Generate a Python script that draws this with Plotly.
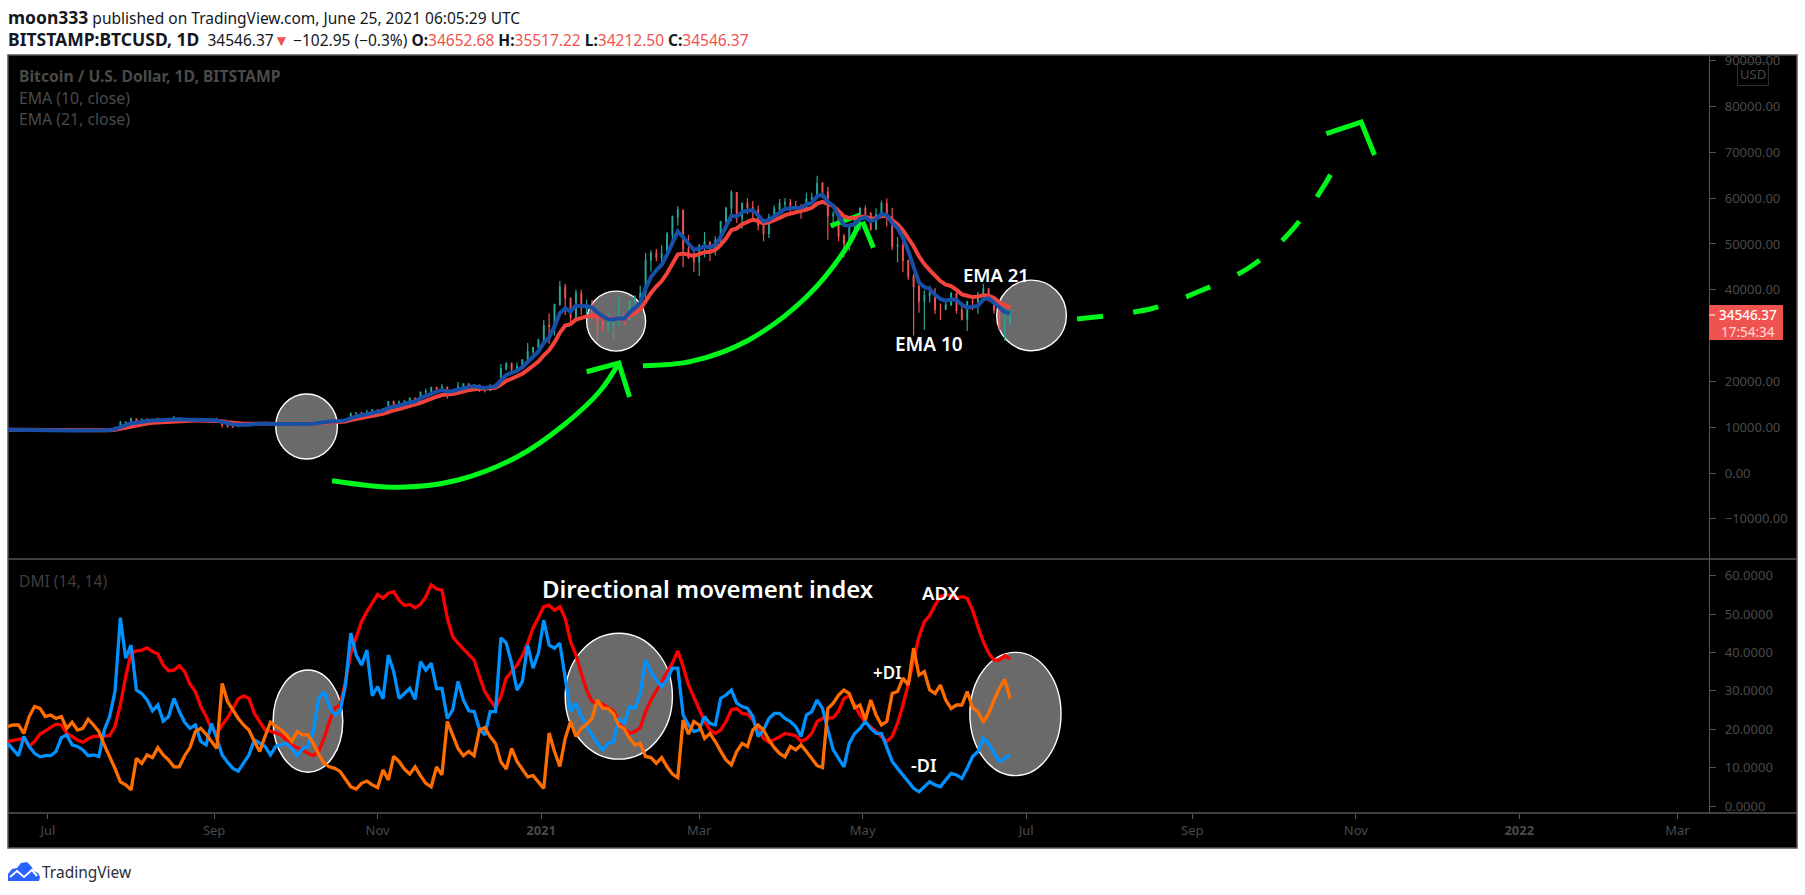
import datetime as dt
import plotly.graph_objects as go

W, H = 1805, 895
L, R, T, B, MID = 8, 1709, 55, 813, 559

dates = [(dt.date(2020, 6, 16) + dt.timedelta(days=2 * i)).isoformat() for i in range(188)]

close_k = [9.45,9.38,9.36,9.69,9.31,9.17,9.12,9.14,
 9.23,9.13,9.34,9.44,9.24,9.30,9.25,9.13,9.17,9.16,9.53,9.55,9.93,10.92,11.10,
 11.80,11.22,11.75,11.60,11.68,11.38,11.77,11.85,11.99,11.75,11.52,11.65,11.35,11.33,11.54,11.65,
 11.40,10.45,10.28,10.12,10.37,10.44,10.67,10.95,10.93,10.92,10.45,10.75,10.70,10.69,10.78,
 10.57,10.67,10.60,10.92,11.30,11.55,11.43,11.32,11.50,11.75,12.98,13.11,13.07,13.27,13.80,
 13.76,14.03,15.59,14.84,15.33,15.70,16.33,15.99,17.65,17.82,18.68,18.41,18.74,17.15,18.19,
 18.80,19.45,19.17,19.19,18.55,18.05,19.16,19.27,22.8,23.85,22.73,23.24,24.7,26.5,27.36,29.0,
 32.2,31.98,36.8,40.6,38.2,33.9,39.15,36.0,36.6,35.5,32.95,32.3,32.5,33.4,34.3,
 33.5,37.6,38.3,39.2,46.5,47.9,47.1,47.9,52.1,55.9,57.4,48.9,47.0,46.2,
 49.6,50.4,48.8,50.9,54.9,57.8,61.2,55.7,58.9,58.0,57.4,54.1,52.3,55.8,57.6,58.8,
 59.0,58.2,58.1,58.1,59.8,60.0,63.2,61.3,56.2,56.5,51.7,50.1,53.9,54.9,57.7,
 56.6,53.2,56.4,58.8,55.9,49.5,49.7,46.4,42.9,40.7,37.5,38.7,39.3,35.7,35.7,
 36.7,39.2,35.5,33.6,37.4,37.3,39.0,40.2,38.1,35.6,31.7,32.5,34.5]
high_k = [9.55,9.48,9.40,9.75,9.7,9.35,9.2,9.2,
 9.3,9.2,9.38,9.48,9.48,9.35,9.3,9.25,9.2,9.2,9.55,9.65,10.1,11.4,11.2,
 12.1,11.9,11.8,11.9,11.85,12.1,11.8,12.0,12.45,12.0,11.85,11.7,11.75,11.6,11.55,11.8,
 12.05,11.1,10.4,10.4,10.5,10.45,10.75,11.1,11.05,11.0,10.9,10.8,10.8,10.95,10.8,
 10.9,10.7,10.8,10.95,11.45,11.7,11.55,11.45,11.5,11.9,13.2,13.2,13.3,13.8,13.7,
 13.9,14.05,15.7,15.8,15.8,15.9,16.4,16.15,17.75,18.4,18.7,18.75,19.4,18.9,18.3,
 19.85,19.6,19.55,19.4,19.3,18.6,19.4,19.55,23.8,24.2,24.1,24.1,24.8,28.4,27.5,29.3,
 33.4,34.8,36.9,41.9,41.3,38.1,40.0,40.0,37.9,37.8,35.5,33.5,34.9,33.8,38.5,
 34.7,37.7,38.8,40.9,48.0,48.6,48.9,49.7,52.6,56.2,58.3,54.2,52.0,48.4,
 50.0,52.6,49.4,51.7,55.0,58.1,61.7,61.1,59.0,60.0,59.4,58.4,54.0,56.6,58.4,59.8,
 60.0,59.8,59.4,58.7,61.2,61.2,64.9,63.5,62.5,57.1,55.5,52.2,54.2,55.9,58.0,
 58.4,57.0,57.8,59.5,59.9,57.9,51.5,50.5,46.5,43.5,42.3,39.9,40.9,40.4,37.0,
 37.5,39.5,39.2,36.8,37.5,38.4,39.5,41.3,39.5,36.5,36.0,34.8,35.5]
low_k = [9.25,9.28,9.2,9.3,9.25,9.05,9.0,9.05,
 9.05,9.05,9.1,9.3,9.15,9.15,9.2,9.1,9.1,9.12,9.2,9.45,9.5,9.9,10.85,
 10.95,11.0,11.1,11.35,11.5,11.2,11.15,11.6,11.7,11.6,11.5,11.5,11.15,11.1,11.3,11.6,
 11.15,9.9,9.9,9.85,10.1,10.2,10.25,10.65,10.8,10.75,10.35,10.15,10.6,10.6,10.6,
 10.4,10.5,10.55,10.5,10.9,11.2,11.3,11.25,11.25,11.4,11.9,12.7,12.8,12.95,13.1,
 13.6,13.2,14.0,14.3,14.9,15.0,15.4,15.8,16.0,17.3,17.6,18.0,18.5,16.2,17.1,
 18.1,18.4,18.6,18.9,17.7,17.6,18.5,19.1,19.3,22.4,21.9,22.6,22.7,24.5,25.9,27.8,
 28.7,28.2,30.0,36.5,34.5,32.5,33.4,34.5,33.8,33.4,28.8,30.9,30.9,29.2,32.0,
 32.3,33.4,36.2,37.3,38.0,44.0,46.2,45.6,47.0,50.7,54.0,44.9,46.7,43.9,
 43.0,47.1,46.3,47.5,50.3,53.0,55.0,54.6,53.3,56.5,55.5,53.0,50.6,51.3,54.8,57.0,
 57.9,56.6,57.3,55.5,57.6,59.4,61.3,60.0,50.9,53.4,50.6,47.0,48.5,52.5,53.0,
 55.9,52.9,55.3,56.0,53.8,48.6,46.0,43.8,42.2,30.0,35.0,31.2,37.2,34.7,33.4,
 35.7,36.5,34.8,33.3,31.0,35.6,34.7,38.7,37.4,34.8,31.2,28.8,34.2]
ema10_k = [9.45,9.42,9.40,9.50,9.44,9.35,9.27,9.23,9.23,9.20,9.25,9.31,9.29,9.29,9.28,9.23,9.21,9.19,9.31,9.39,
 9.57,10.02,10.38,10.85,10.97,11.23,11.36,11.46,11.43,11.55,11.65,11.76,11.76,11.68,11.67,11.56,11.48,11.50,11.55,11.50,
 11.15,10.86,10.61,10.53,10.50,10.56,10.69,10.77,10.82,10.70,10.72,10.71,10.70,10.73,10.68,10.68,10.65,10.74,10.93,11.14,
 11.24,11.27,11.35,11.48,11.98,12.36,12.60,12.82,13.15,13.35,13.58,14.25,14.45,14.74,15.06,15.48,15.65,16.32,16.82,17.44,
 17.76,18.09,17.78,17.92,18.21,18.62,18.80,18.93,18.80,18.55,18.75,18.92,20.21,21.42,21.86,22.32,23.11,24.24,25.28,26.52,
 28.41,29.60,32.0,34.87,35.98,35.29,36.57,36.38,36.45,36.13,35.07,34.15,33.6,33.53,33.79,33.7,35.0,36.1,37.13,40.25,
 42.8,44.24,45.46,47.67,50.41,52.74,51.46,49.97,48.72,49.01,49.47,49.25,49.8,51.5,53.6,56.13,55.99,56.96,57.31,57.34,
 56.26,54.94,55.23,56.02,56.95,57.6,57.8,57.9,57.97,58.58,59.05,60.43,60.72,59.21,58.31,56.11,54.11,54.04,54.33,55.45,
 55.83,54.95,55.43,56.55,56.33,54.6,53.5,51.4,48.5,45.0,41.6,40.6,40.2,38.9,38.0,37.6,37.9,37.8,36.7,36.1,
 36.3,36.5,37.9,38.1,37.2,36.0,35.1,34.9]
ema21_k = [9.42,9.41,9.40,9.43,9.42,9.38,9.33,9.30,9.28,9.26,9.26,9.29,9.28,9.28,9.28,9.26,9.24,9.22,9.27,9.32,
 9.42,9.66,9.90,10.23,10.40,10.63,10.80,10.95,11.02,11.15,11.27,11.39,11.45,11.46,11.49,11.47,11.44,11.45,11.47,11.46,
 11.28,11.10,10.93,10.83,10.75,10.74,10.78,10.81,10.83,10.77,10.76,10.75,10.73,10.74,10.71,10.70,10.69,10.73,10.83,10.95,
 11.03,11.09,11.16,11.26,11.56,11.83,12.05,12.26,12.52,12.73,12.95,13.41,13.66,13.95,14.24,14.60,14.84,15.33,15.76,16.27,
 16.65,17.02,17.04,17.24,17.51,17.85,18.08,18.27,18.32,18.28,18.43,18.58,19.31,20.11,20.57,21.04,21.68,22.51,23.35,24.34,
 25.7,26.8,28.5,30.6,32.2,32.5,33.5,33.9,34.2,34.4,34.2,33.9,33.7,33.6,33.7,33.6,34.3,35.0,35.7,37.5,
 39.3,40.7,41.9,43.6,45.7,47.7,47.9,47.7,47.4,47.8,48.2,48.3,48.7,49.8,51.2,53.0,53.4,54.3,54.9,55.3,
 55.0,54.5,54.7,55.1,55.7,56.3,56.6,56.8,57.0,57.5,57.9,58.8,59.2,58.7,58.3,57.2,56.0,55.7,55.6,55.9,
 56.0,55.5,55.6,56.1,56.1,55.2,54.3,53.0,51.4,49.5,47.3,45.6,44.3,43.0,41.9,41.1,40.8,40.0,39.0,38.7,
 38.4,38.5,38.8,38.7,38.2,37.2,36.6,36.1]

adx = [16.8,17.0,17.2,17.6,15.5,16.8,18.7,19.6,20.4,21.3,21.1,18.9,18.1,17.2,16.6,17.5,18.1,18.2,18.1,18.3,
 20.7,26.3,33.7,39.8,40.4,40.6,41.2,40.2,39.6,36.7,35.2,35.4,36.5,35.0,31.7,29.8,25.9,23.3,20.2,18.9,
 21.1,23.0,25.4,27.9,28.7,28.0,24.1,22.0,19.8,19.5,19.1,18.5,17.2,15.9,15.2,14.6,13.7,13.1,14.3,17.6,
 22.0,25.4,26.3,32.4,39.8,44.1,48.0,50.6,52.8,55.1,54.1,55.4,55.8,53.6,52.2,52.5,51.6,52.5,54.5,57.6,
 56.5,56.2,48.9,44.1,42.4,40.9,39.5,38.0,33.7,29.8,27.6,25.6,28.5,33.3,35.0,36.7,39.1,42.4,46.3,49.0,
 51.9,52.3,51.0,51.9,48.9,42.8,39.3,34.5,30.2,27.3,26.7,26.5,25.6,24.7,22.0,20.2,18.9,19.4,20.4,24.6,
 27.6,30.0,32.8,35.2,37.2,40.4,36.3,31.5,28.5,25.0,22.0,19.8,18.9,19.8,22.0,25.0,25.4,24.1,23.9,22.4,
 20.2,17.6,16.6,17.2,18.0,18.9,18.7,18.3,16.8,17.5,18.9,22.0,22.8,22.8,23.0,24.7,28.0,28.7,26.3,23.7,
 21.8,20.7,19.4,18.1,16.8,18.1,21.5,26.3,31.7,38.0,44.1,48.0,49.6,52.3,54.5,55.1,54.8,54.1,54.5,54.1,
 51.0,46.7,42.8,39.8,38.0,38.0,39.1,38.3]
minus_di = [16.3,14.6,13.1,18.1,15.5,13.7,12.8,13.1,13.1,14.2,17.8,18.5,15.9,15.5,14.6,13.1,13.3,12.9,19.8,23.3,
 29.8,49.0,38.5,41.9,30.2,29.3,27.6,24.8,26.3,22.1,23.3,28.0,24.6,21.8,20.2,21.1,16.8,15.9,21.5,17.6,
 13.3,11.4,9.8,9.1,11.1,13.3,17.2,16.3,15.5,13.3,15.5,15.9,16.3,15.0,13.1,15.0,15.5,19.4,28.0,29.8,
 25.9,23.7,24.6,31.5,45.0,39.3,36.7,40.6,28.7,31.1,27.9,39.3,35.0,28.0,29.3,30.6,27.8,37.6,35.4,37.2,
 30.6,30.6,22.8,25.0,32.4,27.6,24.8,24.6,20.1,18.5,24.6,24.6,43.8,42.4,37.2,30.2,32.4,41.9,35.9,39.8,
 48.4,41.9,41.1,42.4,33.3,24.6,26.8,23.3,20.7,18.5,16.3,14.6,16.3,16.8,22.8,21.3,25.9,25.4,29.3,38.0,
 35.0,32.8,31.1,32.8,35.9,35.9,23.7,21.1,19.4,19.8,23.3,21.5,21.1,28.0,28.9,30.2,26.8,25.9,25.4,23.3,
 18.1,19.8,22.8,24.1,24.1,22.8,22.0,20.7,18.1,23.7,24.6,27.6,25.4,19.8,14.6,12.4,10.2,16.3,18.9,20.2,
 22.0,20.2,18.9,18.9,15.5,11.6,9.8,8.1,6.3,4.6,3.7,5.0,6.3,5.5,5.0,6.8,8.5,8.1,7.2,9.8,
 12.9,14.2,17.6,16.3,13.7,11.6,12.4,13.3]
plus_di = [20.7,21.1,21.1,18.9,23.3,25.9,25.4,23.3,23.7,22.8,23.3,20.2,21.8,19.8,20.2,22.6,21.1,19.4,15.9,12.9,
 9.8,6.3,5.5,4.2,12.4,11.1,13.3,12.6,15.2,13.3,12.0,10.2,10.2,13.1,15.2,19.4,20.2,18.7,17.0,15.0,
 31.9,27.2,25.0,22.8,21.1,19.8,16.8,14.2,18.1,21.8,20.7,19.8,18.5,16.8,19.4,18.5,18.5,16.3,13.5,11.1,
 10.2,9.8,9.0,6.8,5.0,4.4,5.9,6.5,5.5,4.8,9.4,6.8,12.9,11.6,9.6,8.3,10.2,7.9,5.9,5.0,
 10.2,8.1,22.0,18.5,15.0,13.1,14.2,13.1,19.8,20.4,18.1,16.3,11.5,9.6,15.0,11.6,9.4,7.6,7.9,6.3,
 4.6,19.0,14.2,10.3,17.6,22.0,18.1,20.2,21.3,22.8,27.6,25.4,25.4,24.1,20.9,20.2,17.6,15.9,16.3,12.9,
 12.6,11.1,12.6,10.2,8.3,7.4,22.4,18.7,22.0,21.1,17.6,18.9,16.8,14.3,12.0,10.7,14.2,16.3,15.5,19.8,
 21.1,19.8,17.2,15.2,13.7,12.8,15.5,14.6,15.9,14.2,12.4,10.5,10.0,25.4,26.8,28.9,30.2,29.3,25.6,26.3,
 22.4,27.6,23.7,21.1,22.0,29.3,29.8,33.3,31.5,41.1,34.1,35.0,30.2,29.3,31.5,27.6,25.4,26.3,26.3,29.8,
 25.6,24.6,21.8,24.1,27.6,30.6,33.0,28.0]

# hand-drawn overlays on the price pane (date, USD)
arc1_x = ["2020-10-15","2020-11-09","2020-12-01","2020-12-23","2021-01-09","2021-01-23","2021-01-30"]
arc1_y = [-1680,-3120,-1530,3490,10260,17900,24010]
head1_x = ["2021-01-18","2021-01-30","2021-02-03"]
head1_y = [22110,24010,16590]
arc2_x = ["2021-02-08","2021-02-26","2021-03-19","2021-04-10","2021-04-25","2021-04-30"]
arc2_y = [23420,24360,28880,38420,49230,54800]
head2a_x = ["2021-04-19","2021-04-30"]
head2a_y = [53980,56320]
head2b_x = ["2021-05-01","2021-05-05"]
head2b_y = [54860,49180]
arc3_x = ["2021-07-20","2021-08-17","2021-09-03","2021-09-22","2021-10-07","2021-10-21","2021-10-27"]
arc3_y = [33620,35910,39510,44750,52260,63530,70510]
head3_x = ["2021-10-21","2021-11-03","2021-11-08"]
head3_y = [74110,76620,69420]

circles_price = [("2020-09-24","2020-10-17",3060,17250),
                 ("2021-01-18","2021-02-09",26600,39700),
                 ("2021-06-20","2021-07-16",26700,42100)]
circles_dmi = [("2020-09-23","2020-10-19",8.8,35.4),
               ("2021-01-10","2021-02-19",12.2,45.0),
               ("2021-06-10","2021-07-14",7.9,40.0)]

x_tick_vals = ["2020-07-01","2020-09-01","2020-11-01","2021-01-01","2021-03-01","2021-05-01","2021-07-01","2021-09-01","2021-11-01","2022-01-01","2022-03-01"]
x_tick_text = ["Jul","Sep","Nov","<b>2021</b>","Mar","May","Jul","Sep","Nov","<b>2022</b>","Mar"]
price_ticks = [-10000,0,10000,20000,40000,50000,60000,70000,80000,90000]
dmi_ticks = [0,10,20,30,40,50,60]

FONT = "Noto Sans"
DIM = "#4a4a4a"
GREEN = "#00f71c"
close = [v * 1000 for v in close_k]
opens = [9400.0] + close[:-1]

fig = go.Figure()
fig.add_trace(go.Candlestick(x=dates, open=opens, high=[v * 1000 for v in high_k], low=[v * 1000 for v in low_k], close=close,
    increasing=dict(line=dict(color="#26a69a", width=1.2), fillcolor="#26a69a"),
    decreasing=dict(line=dict(color="#ef5350", width=1.2), fillcolor="#ef5350"),
    whiskerwidth=0, hoverinfo="skip", yaxis="y", xaxis="x"))


def green(xs, ys, **kw):
    fig.add_trace(go.Scatter(x=xs, y=ys, mode="lines", hoverinfo="skip", yaxis="y", xaxis="x",
                             line=dict(color=GREEN, width=kw.get("width", 5), shape=kw.get("shape", "linear"),
                                       smoothing=1.0, dash=kw.get("dash", "solid"))))


green(arc1_x, arc1_y, shape="spline")
green(head1_x, head1_y)
green(arc2_x, arc2_y, shape="spline")
green(head2a_x, head2a_y)
green(head2b_x, head2b_y)
green(arc3_x, arc3_y, shape="spline", dash="26px,30px")
green(head3_x, head3_y)

fig.add_trace(go.Scatter(x=dates, y=[v * 1000 for v in ema21_k], mode="lines", line=dict(color="#f4433c", width=4), hoverinfo="skip"))
fig.add_trace(go.Scatter(x=dates, y=[v * 1000 for v in ema10_k], mode="lines", line=dict(color="#174ea6", width=4), hoverinfo="skip"))

for ser, col in ((adx, "#ff0000"), (minus_di, "#0091ff"), (plus_di, "#ff6d00")):
    fig.add_trace(go.Scatter(x=dates, y=ser, mode="lines", line=dict(color=col, width=3.3), hoverinfo="skip", xaxis="x", yaxis="y2"))


def px(x, y):
    return (x - L) / (R - L), (B - y) / (B - T)


shapes = []
fx0, fy0 = px(8, 848)
fx1, fy1 = px(1797, 55)
shapes.append(dict(type="rect", xref="paper", yref="paper", x0=fx0, x1=fx1, y0=fy0, y1=fy1, fillcolor="#000000",
                   line=dict(color="#555555", width=1.5), layer="below"))
for y in (MID, B):
    a, b = px(8, y)
    c, d = px(1797, y)
    shapes.append(dict(type="line", xref="paper", yref="paper", x0=a, x1=c, y0=b, y1=d, line=dict(color="#555555", width=1.3)))
for x0, x1, y0, y1 in circles_price:
    shapes.append(dict(type="circle", xref="x", yref="y", x0=x0, x1=x1, y0=y0, y1=y1, fillcolor="#6a6a6a",
                       line=dict(color="#ffffff", width=1.4), layer="below"))
for x0, x1, y0, y1 in circles_dmi:
    shapes.append(dict(type="circle", xref="x", yref="y2", x0=x0, x1=x1, y0=y0, y1=y1, fillcolor="#6a6a6a",
                       line=dict(color="#ffffff", width=1.4), layer="below"))
# last-price tag
a, b = px(1709, 340)
c, d = px(1783, 305)
shapes.append(dict(type="rect", xref="paper", yref="paper", x0=a, x1=c, y0=b, y1=d, fillcolor="#ef5350", line=dict(width=0)))
a, b = px(1709, 315)
c, d = px(1715, 315)
shapes.append(dict(type="line", xref="paper", yref="paper", x0=a, x1=c, y0=b, y1=d, line=dict(color="#ffffff", width=1)))
# TradingView logo
pts = [(8,881),(8,874),(12,869),(17,868),(21,863),(27,862),(31,866),(34,871),(38,873),(40,877),(39,881)]
path = "M" + " L".join("%.5f,%.5f" % px(*p) for p in pts) + " Z"
shapes.append(dict(type="path", xref="paper", yref="paper", path=path, fillcolor="#2962ff", line=dict(width=0)))
zig = [(10,877),(17,871),(24,877),(32,870),(37,876)]
path = "M" + " L".join("%.5f,%.5f" % px(*p) for p in zig)
shapes.append(dict(type="path", xref="paper", yref="paper", path=path, line=dict(color="#ffffff", width=2)))

anns = []


def label(x, y, text, size, color, anchor="left", weight=400):
    a, b = px(x, y)
    anns.append(dict(xref="paper", yref="paper", x=a, y=b, text=text, showarrow=False, xanchor=anchor, yanchor="middle",
                     font=dict(family=FONT, size=size, color=color, weight=weight), borderpad=0, borderwidth=0))


def bold(t):
    return "<b><span style='font-size:17.5px'>%s</span></b>" % t


def red(t):
    return "<span style='color:#ef5350'>%s</span>" % t


INK = "#131722"
label(8, 17, bold("moon333") + " published on TradingView.com, June 25, 2021 06:05:29 UTC", 15.5, INK)
label(8, 39, bold("BITSTAMP:BTCUSD, 1D") + "  34546.37" + red("▼") + " −102.95 (−0.3%) " + "<b>O:</b>" + red("34652.68")
      + " <b>H:</b>" + red("35517.22") + " <b>L:</b>" + red("34212.50") + " <b>C:</b>" + red("34546.37"), 15.5, INK)
label(19, 76, "<b>Bitcoin / U.S. Dollar, 1D, BITSTAMP</b>", 15.7, DIM)
label(19, 98, "EMA (10, close)", 15.8, DIM)
label(19, 119, "EMA (21, close)", 15.8, DIM)
label(19, 581, "DMI (14, 14)", 15.6, "#3e3e3e")
label(995.6, 274, "EMA 21", 18.5, "#ffffff", "center", 600)
label(929.4, 344, "EMA 10", 19, "#ffffff", "center", 600)
label(708, 588, "Directional movement index", 24, "#ffffff", "center", 600)
label(940.5, 592, "ADX", 18.5, "#ffffff", "center", 600)
label(886.5, 672, "+DI", 17, "#ffffff", "center", 600)
label(923.5, 765, "-DI", 18, "#ffffff", "center", 600)
label(1748, 315, "34546.37", 13.5, "#ffffff", "center", 500)
label(1748, 332, "17:54:34", 13.5, "#ffd9d8", "center")
label(42, 872, "TradingView", 15.5, "#2a2e39")
a, b = px(1753, 74)
anns.append(dict(xref="paper", yref="paper", x=a, y=b, text="USD", showarrow=False, xanchor="center", yanchor="middle",
                 font=dict(family=FONT, size=13, color=DIM), bordercolor="#2a2e39", borderwidth=1, borderpad=2))

yrange = [(473 - 559) * 218.3, (473 - 55) * 218.3]
y2range = [(806 - 813) / 3.84, (806 - 559) / 3.84]
mid_dom = (B - MID) / (B - T)
axis_font = dict(family=FONT, size=13, color=DIM)

fig.update_layout(
    width=W, height=H, autosize=False, showlegend=False,
    paper_bgcolor="#ffffff", plot_bgcolor="#000000",
    margin=dict(l=L, r=W - R, t=T, b=H - B, pad=0),
    boxgap=0.8, shapes=shapes, annotations=anns,
    xaxis=dict(type="date", domain=[0, 1], anchor="y2", range=["2020-06-16 02:00", "2022-03-12 19:00"], tickmode="array",
               tickvals=x_tick_vals, ticktext=x_tick_text, ticks="outside", ticklen=5, tickcolor="#555555", tickwidth=1,
               showgrid=False, zeroline=False, showline=False, rangeslider=dict(visible=False), tickfont=axis_font),
    yaxis=dict(domain=[mid_dom, 1], anchor="x", side="right", range=yrange, tickmode="array", tickvals=price_ticks,
               tickformat=".2f", ticks="outside", ticklen=6, tickcolor="#555555", showgrid=False, zeroline=False,
               showline=True, linecolor="#555555", linewidth=1.3, tickfont=axis_font, ticklabelstandoff=6),
    yaxis2=dict(domain=[0, mid_dom], anchor="x", side="right", range=y2range, tickmode="array", tickvals=dmi_ticks,
                tickformat=".4f", ticks="outside", ticklen=6, tickcolor="#555555", showgrid=False, zeroline=False,
                showline=True, linecolor="#555555", linewidth=1.3, tickfont=axis_font, ticklabelstandoff=6),
)

fig.write_html("out.html", config=dict(displayModeBar=False),
               post_script="document.body.style.margin='0';document.body.style.overflow='hidden';")
